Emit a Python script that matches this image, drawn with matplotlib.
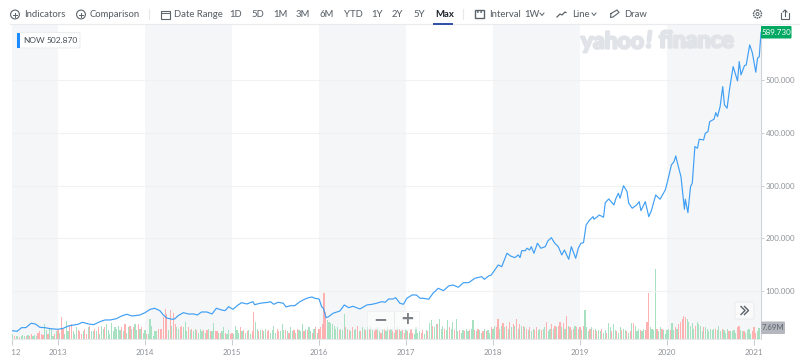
import matplotlib
matplotlib.use('Agg')
from matplotlib import pyplot as plt
from matplotlib import patheffects
from matplotlib.patches import Rectangle, Circle, FancyBboxPatch
from matplotlib.transforms import Bbox
import numpy as np

# weekly-ish closing prices
dates = [2012.47, 2012.53, 2012.58, 2012.63, 2012.69, 2012.74, 2012.79, 2012.85, 2012.91, 2012.95,
         2013.00, 2013.06, 2013.12, 2013.18, 2013.23, 2013.28, 2013.35, 2013.41, 2013.48, 2013.54,
         2013.60, 2013.67, 2013.73, 2013.79, 2013.85, 2013.92, 2013.94, 2014.00, 2014.06, 2014.11,
         2014.17, 2014.21, 2014.25, 2014.31, 2014.34, 2014.38, 2014.44, 2014.50, 2014.56, 2014.60,
         2014.65, 2014.71, 2014.77, 2014.82, 2014.88, 2014.92, 2014.96, 2015.01, 2015.07, 2015.11,
         2015.17, 2015.21, 2015.24, 2015.26, 2015.32, 2015.42, 2015.44, 2015.48, 2015.53, 2015.59,
         2015.62, 2015.67, 2015.72, 2015.78, 2015.84, 2015.88, 2015.92, 2015.95, 2016.00, 2016.03,
         2016.05, 2016.08, 2016.11, 2016.16, 2016.24, 2016.29, 2016.34, 2016.39, 2016.47, 2016.55,
         2016.61, 2016.66, 2016.72, 2016.76, 2016.80, 2016.85, 2016.88, 2016.93, 2016.97, 2017.01,
         2017.07, 2017.12, 2017.16, 2017.20, 2017.26, 2017.31, 2017.37, 2017.43, 2017.49, 2017.54,
         2017.60, 2017.66, 2017.72, 2017.79, 2017.87, 2017.90, 2017.95, 2017.98, 2018.02, 2018.06,
         2018.10, 2018.16, 2018.20, 2018.25, 2018.29, 2018.31, 2018.33, 2018.37, 2018.39, 2018.42,
         2018.44, 2018.47, 2018.51, 2018.55, 2018.60, 2018.63, 2018.67, 2018.71, 2018.75, 2018.79,
         2018.82, 2018.87, 2018.90, 2018.95, 2018.98, 2019.01, 2019.04, 2019.07, 2019.11, 2019.15,
         2019.16, 2019.20, 2019.22, 2019.27, 2019.29, 2019.33, 2019.39, 2019.41, 2019.44, 2019.46,
         2019.50, 2019.54, 2019.56, 2019.60, 2019.65, 2019.68, 2019.70, 2019.75, 2019.79, 2019.82,
         2019.87, 2019.92, 2019.98, 2020.01, 2020.05, 2020.08, 2020.10, 2020.13, 2020.16, 2020.20,
         2020.21, 2020.24, 2020.27, 2020.29, 2020.32, 2020.35, 2020.37, 2020.42, 2020.44, 2020.47,
         2020.49, 2020.54, 2020.56, 2020.58, 2020.61, 2020.64, 2020.66, 2020.69, 2020.72, 2020.76,
         2020.81, 2020.83, 2020.85, 2020.89, 2020.91, 2020.95, 2020.98, 2021.02, 2021.04, 2021.06,
         2021.08]
prices = [25.2, 24.0, 30.9, 31.0, 39.2, 37.9, 31.6, 30.9, 29.0, 28.4,
          27.8, 29.7, 34.1, 36.0, 37.3, 41.1, 37.9, 36.6, 42.2, 45.5,
          45.5, 47.9, 53.0, 56.3, 53.0, 54.4, 54.9, 59.3, 65.7, 67.6,
          63.1, 54.9, 49.2, 46.8, 47.4, 53.6, 59.3, 56.8, 56.8, 54.9,
          60.6, 60.6, 56.8, 67.6, 64.4, 63.1, 70.6, 65.7, 73.9, 78.2,
          75.8, 78.2, 80.1, 74.4, 77.1, 79.0, 80.1, 75.2, 79.0, 77.1,
          70.1, 72.5, 72.5, 80.1, 85.2, 87.7, 89.0, 86.6, 85.2, 70.6,
          67.6, 49.8, 51.7, 58.1, 62.5, 73.9, 68.8, 71.4, 66.3, 73.9,
          75.2, 77.1, 80.1, 79.0, 85.2, 85.2, 87.7, 77.1, 75.2, 86.6,
          92.8, 92.8, 86.6, 86.6, 84.7, 96.0, 105.5, 101.0, 109.9, 111.7,
          107.4, 116.1, 116.1, 124.4, 127.5, 122.5, 128.8, 130.7, 140.2, 149.6,
          146.4, 171.8, 166.7, 163.5, 168.6, 163.5, 176.7, 176.7, 181.3, 178.0,
          184.3, 171.8, 190.7, 181.3, 184.3, 195.1, 201.3, 190.7, 184.3, 168.6,
          178.0, 160.4, 184.3, 162.3, 181.3, 190.7, 191.9, 225.4, 234.9, 241.1,
          236.2, 241.1, 244.3, 240.0, 267.6, 274.6, 263.3, 274.6, 285.4, 276.0,
          299.8, 288.5, 266.5, 257.0, 263.3, 269.5, 252.5, 269.5, 241.1, 252.5,
          282.2, 274.1, 291.7, 310.6, 339.0, 345.3, 356.1, 335.8, 316.9, 255.1,
          274.1, 248.7, 297.9, 304.4, 373.7, 370.7, 387.7, 386.4, 399.1, 402.1,
          421.0, 425.6, 438.1, 430.5, 449.5, 487.3, 452.7, 446.4, 484.3, 525.2,
          498.1, 534.7, 509.5, 527.1, 528.4, 566.3, 551.7, 514.6, 541.1, 544.1,
          589.73]

# weekly volume in millions, negative = down week (red bar)
vol_2012 = [10.8, 3, -1.5, 2, 1.5, -1, 1.5, 2.5, 1.5, -2, 2.5, -2, -3, 2, 2.5, 2, -4, -5, -3.5, -2.5,
            10.5, 6, -3, 7, 6.5, 2, -3.5, 5]
vol_2013 = [-6, 4, -15, -7, 3, 12.5, 5, -9, -10, 5, 3, 8, -6, -5, -3, 5, -7, -3, 8, -9,
            5, 5, -7, 5, -8, 3, 9, 7, -8, 10, 6, 3, 11, 5, 8, 7, 9, 6, -8, 5,
            -10, 4, 8, -9, 7, -8, 10, 6, -10, 7, -8, 4]
vol_2014 = [6, -3.5, 3, 14, 9, 2, 5, 5, -6.5, -7, -6.5, -15, -21, -17, 6, -20, 9, -18, -10, 8,
            7, -8, -9, 8, 12, 5, -8, 6, -7, 5, 7, -6, 4, 7, 5, -6, 4, -6, 7, -5,
            5, 11, -5, -5, 4, -4, 5, 8, -4, 3, 6, -3]
vol_2015 = [-4, 3, 9, 6, 4, -8, 5, -6, 4, -5, 6, 3, -5, -18.5, 12, 7, -5, 6, -6, 5,
            7, -5, -6, 4, 6, 9, 4, -7, -5, 5, 10, 6, -6, 5, -4, 8, 5, -6, 4, -7,
            6, 5, 10, -5, 7, -6, 8, 5, -4, 7, -8, 4]
vol_2016 = [-7, -8, -10, -32, -19, 13, 12, 11, 10, 9, 7, 8, -6, 7, 6, 17, -8, 7, -6, 5,
            -8, 6, 7, -9, 5, -5, 8, 7, -6, 8, -7, 9, 6, -5, -7, 8, 5, -4, 6, -7,
            5, 8, -6, 7, -5, 4, -6, 8, -7, 5, -6, -4]
vol_2017 = [6, -5, 4, -7, -4, 3, 8, 4, 5, -4, -6, 3, 6, -5, 11, 13, -9, 8, 10, -10,
            14, 7, 9, -7, 6, 13, -8, 7, 12, -6, 14, 5, -6, 4, 6, -5, 7, 5, -6, 7,
            13, -6, 5, -7, 6, 4, -5, 7, -5, 6, 4, -8]
vol_2018 = [7, 9, -8, -14, 7, 9, -11, 8, -9, 7, -12, 8, -10, 9, -14, 7, -10, 9, -9, 8,
            -7, 6, -8, 5, 7, -6, -8, 6, 7, -6, 7, 8, -12, 5, 7, -10, 7, -9, 8, -9,
            -12, 8, -11, 7, -16, 9, -8, 6, -7, 9, -8, 7]
vol_2019 = [-8, 6, -9, 20, 8, 5, -7, 8, -6, 7, -5, 6, 5, -7, 4, 6, -4, 11, 8, -5,
            10, 6, -5, 4, 8, -6, 7, 6, -5, 4, -5, 11, -11, 9, 5, 7, -6, 5, 7, -6,
            -12, -32, 8, 7, 6, 49.5, -7, 5, 8, -7, 6, 3]
vol_2020 = [6, 7, -6, 11, 6, -8, 7, -10, -12, -14, -16, -15, 14, 12, 9, 11, 7, -9, 12, 10,
            9, 5, -8, 8, 7, 5, 7, 6, 7, -7, 6, 9, 5, -7, 6, 4, 7, -5, 5, 5,
            6, 4, -8, -9, 6, 5, -5, 4, 6, 7, 3, -5]
vol_2021 = [-8, -4, 5, 7.69]

year_ticks = [2013, 2014, 2015, 2016, 2017, 2018, 2019, 2020, 2021]
price_ticks = [100, 200, 300, 400, 500]
shaded_years = [(2012.465, 2013), (2014, 2015), (2016, 2017), (2018, 2019), (2020, 2021.08)]
last_close = 589.73
now_close = 502.87
last_volume = 7.69

# toolbar text, x is the left edge in pixels
toolbar_items = [('Indicators', 24), ('Comparison', 90), ('Date Range', 174), ('1D', 229), ('5D', 251),
                 ('1M', 273), ('3M', 296), ('6M', 320), ('YTD', 344), ('1Y', 371), ('2Y', 392),
                 ('5Y', 413), ('Interval', 489), ('1W', 524), ('Line', 572), ('Draw', 624)]

W, H = 800, 358
LEFT, RIGHT, TOP, BOTTOM = 11.5, 761, 25, 338.5
font = ['Lato', 'DejaVu Sans']

fig = plt.figure(figsize=(8, 3.58), dpi=100)
plt.rcParams['font.family'] = font
rect = [LEFT / W, 1 - BOTTOM / H, (RIGHT - LEFT) / W, (BOTTOM - TOP) / H]

ax_vol = fig.add_axes(rect, zorder=1)
ax = fig.add_axes(rect, zorder=2)
ax.patch.set_visible(False)

# volume bars
vol_years = {2012: vol_2012, 2013: vol_2013, 2014: vol_2014, 2015: vol_2015, 2016: vol_2016,
             2017: vol_2017, 2018: vol_2018, 2019: vol_2019, 2020: vol_2020, 2021: vol_2021}
for year, vols in vol_years.items():
    vols = np.array(vols, dtype=float)
    if year == 2012:
        x = 2013 - (len(vols) - np.arange(len(vols))) / 52
    else:
        x = year + np.arange(len(vols)) / 52
    colors = np.where(vols < 0, '#ffb0b0', '#a8e0c2')
    ax_vol.bar(x, np.abs(vols), width=0.0135, color=colors, linewidth=0)

for start, end in shaded_years:
    ax_vol.axvspan(start, end, color='#f5f6f7', linewidth=0, zorder=0)

ax_vol.set_xlim(2012.465, 2021.08)
ax_vol.set_ylim(0, 222)
ax_vol.axis('off')

# price line
ax.plot(dates, prices, color='#3f9ff5', linewidth=0.85, solid_joinstyle='round')
ax.set_xlim(2012.465, 2021.08)
ax.set_ylim(10.4, 604)
ax.set_yticks(price_ticks)
ax.set_yticklabels(['%.3f' % p for p in price_ticks])
ax.yaxis.tick_right()
ax.grid(axis='y', color='#f1f1f2', linewidth=0.8)
ax.set_axisbelow(True)
ax.set_xticks([2012.465] + year_ticks)
ax.set_xticklabels(['2012'] + [str(y) for y in year_ticks])
ax.tick_params(axis='x', length=4, width=0.7, color='#c8ccd0', labelcolor='#8f9398', labelsize=5.8, pad=3.5)
ax.tick_params(axis='y', length=2, width=0.7, color='#c8ccd0', labelcolor='#8f9398', labelsize=5.7, pad=1.2)
for side in ['top', 'left']:
    ax.spines[side].set_visible(False)
ax.spines['right'].set_color('#d0d3d7')
ax.spines['bottom'].set_color('#e6e8ea')
ax.spines['bottom'].set_linewidth(0.7)

# the first date label is cut off by the chart edge
first_label = ax.get_xticklabels()[0]
first_label.set_clip_box(Bbox([[LEFT, 0], [RIGHT, 40]]))
first_label.set_clip_on(True)

# page chrome in pixel coordinates
ui = fig.add_axes([0, 0, 1, 1], zorder=3)
ui.set_xlim(0, W)
ui.set_ylim(H, 0)
ui.axis('off')
ui.patch.set_visible(False)

ui.plot([10, 800], [24, 24], color='#e9ebee', linewidth=0.8)
for name, x in toolbar_items:
    ui.text(x, 14.5, name, fontsize=6.8, color='#5b636a', va='center', ha='left', weight='medium')
ui.text(435, 14.5, 'Max', fontsize=6.8, color='#1d2228', va='center', ha='left', weight='bold')
ui.plot([434, 452], [24, 24], color='#2d4da8', linewidth=1.4)

# circled plus icons
for cx in [15, 81]:
    ui.add_patch(Circle((cx, 14.5), 4.4, fill=False, edgecolor='#5b636a', linewidth=0.8))
    ui.plot([cx - 2, cx + 2], [14.5, 14.5], color='#5b636a', linewidth=0.7)
    ui.plot([cx, cx], [12.5, 16.5], color='#5b636a', linewidth=0.7)

# separators
for sx in [149, 463]:
    ui.plot([sx, sx], [9, 19], color='#e6e8ea', linewidth=0.8)

# calendar and interval icons
ui.add_patch(Rectangle((160.5, 10.5), 9, 8, fill=False, edgecolor='#5b636a', linewidth=0.8))
ui.plot([160.5, 169.5], [13, 13], color='#5b636a', linewidth=0.7)
ui.add_patch(Rectangle((474.5, 9.5), 9.5, 8.5, fill=False, edgecolor='#5b636a', linewidth=1.0))
ui.plot([476.5, 482], [11.5, 11.5], color='#5b636a', linewidth=1.2, linestyle=(0, (1, 1)))

# interval and line carets, line and pen icons
for cx in [542, 594]:
    ui.plot([cx - 2, cx, cx + 2], [13, 15.5, 13], color='#5b636a', linewidth=0.7)
ui.plot([557, 560, 562, 565, 566], [17, 14, 15, 12, 12.5], color='#5b636a', linewidth=0.9)
ui.plot([611, 617, 619, 613, 610.5, 611], [13.5, 10, 12.5, 17, 17.5, 13.5], color='#5b636a', linewidth=0.8)

# gear and share icons
ui.add_patch(Circle((757.5, 14), 4, fill=False, edgecolor='#5b636a', linewidth=1.0, linestyle=(0, (1.2, 0.5))))
ui.add_patch(Circle((757.5, 14), 1.5, fill=False, edgecolor='#5b636a', linewidth=0.7))
ui.plot([781, 781, 789, 789], [13, 19, 19, 13], color='#5b636a', linewidth=0.8)
ui.plot([785, 785], [16, 10], color='#5b636a', linewidth=0.8)
ui.plot([783, 785, 787], [12, 10, 12], color='#5b636a', linewidth=0.8)

# watermark
stroke = [patheffects.withStroke(linewidth=1.7, foreground='#e0e3e8')]
ui.text(581, 42, 'yahoo', fontsize=16.5, color='#e0e3e8', weight='bold', va='center', ha='left',
        path_effects=stroke)
ui.text(646, 41, '!', fontsize=16.5, color='#e0e3e8', weight='bold', style='italic', va='center', ha='left',
        path_effects=stroke)
ui.text(659, 41, 'finance', fontsize=16.5, color='#e0e3e8', weight='bold', va='center', ha='left',
        path_effects=stroke)

# legend chip
ui.add_patch(FancyBboxPatch((17, 32.5), 63, 15.5, boxstyle='round,pad=0,rounding_size=1.5',
                            facecolor='white', edgecolor='#eceef0', linewidth=0.8))
ui.add_patch(Rectangle((17, 32.5), 3, 15.5, facecolor='#1a8cff', linewidth=0))
ui.text(23.5, 40.5, 'NOW', fontsize=6, color='#464e56', va='center', ha='left')
ui.text(47, 40.5, '%.3f' % now_close, fontsize=6, color='#464e56', va='center', ha='left')

# last price and last volume badges
ui.add_patch(FancyBboxPatch((761, 26), 30.5, 12.5, boxstyle='round,pad=0,rounding_size=1',
                            facecolor='#00a862', linewidth=0))
ui.text(776.3, 32.5, '%.3f' % last_close, fontsize=5.8, color='white', va='center', ha='center')
ui.add_patch(FancyBboxPatch((761, 321.5), 24, 12.5, boxstyle='round,pad=0,rounding_size=1',
                            facecolor='#b4b7bd', linewidth=0))
ui.text(773, 328, '%.2fM' % last_volume, fontsize=5.6, color='#5b636a', va='center', ha='center')

# zoom and scroll buttons
ui.add_patch(Rectangle((367, 311), 52, 18, facecolor='white', alpha=0.6, edgecolor='#e6e8ea', linewidth=0.5))
ui.plot([394, 394], [312, 328], color='#e6e8ea', linewidth=0.7)
ui.text(380, 319, '\u2212', fontsize=12, color='#7b8087', weight='bold', va='center', ha='center',
        family='DejaVu Sans')
ui.text(407, 319, '+', fontsize=12, color='#7b8087', weight='bold', va='center', ha='center',
        family='DejaVu Sans')
ui.add_patch(FancyBboxPatch((735, 302), 19, 17, boxstyle='round,pad=0,rounding_size=2',
                            facecolor='#fafafb', edgecolor='#e6e8ea', linewidth=0.6))
for off in [0, 3.5]:
    ui.plot([741 + off, 745 + off, 741 + off], [306.5, 310.5, 314.5], color='#5b636a', linewidth=1.0)

plt.savefig('out.png', dpi=100)
